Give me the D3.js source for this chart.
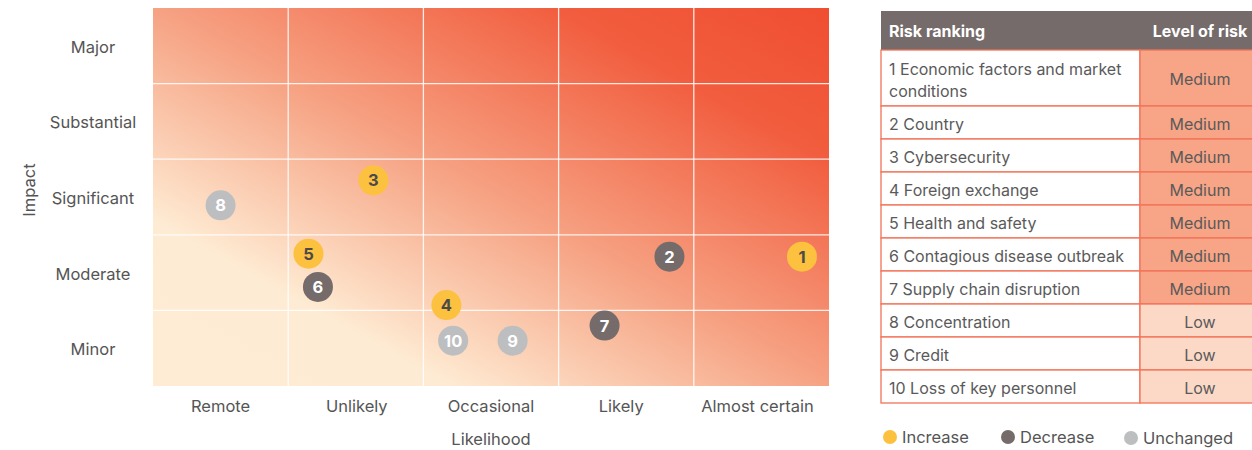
<!DOCTYPE html>
<html>
<head>
<meta charset="utf-8">
<script src="https://cdn.jsdelivr.net/npm/d3@7"></script>
<style>
  body { margin: 0; background: #fff; }
  svg text { font-family: Inter, "Noto Sans", sans-serif; }
</style>
</head>
<body>
<svg id="canvas" width="1252" height="450"></svg>
<script>
// categories
const likelihood = ['Remote', 'Unlikely', 'Occasional', 'Likely', 'Almost certain']
const impact = ['Minor', 'Moderate', 'Significant', 'Substantial', 'Major']

// risks: id, likelihood position, impact position, change
const riskIds = [1, 2, 3, 4, 5, 6, 7, 8, 9, 10]
const riskX = [4.80, 3.82, 1.63, 2.17, 1.15, 1.22, 3.34, 0.50, 2.66, 2.22]
const riskY = [1.71, 1.71, 2.72, 1.07, 1.75, 1.31, 0.80, 2.39, 0.60, 0.60]
const riskChange = ['Increase', 'Decrease', 'Increase', 'Increase', 'Increase', 'Decrease', 'Decrease', 'Unchanged', 'Unchanged', 'Unchanged']

// table
const riskNames = ['Economic factors and market conditions', 'Country', 'Cybersecurity', 'Foreign exchange',
  'Health and safety', 'Contagious disease outbreak', 'Supply chain disruption', 'Concentration', 'Credit',
  'Loss of key personnel']
const riskLevel = ['Medium', 'Medium', 'Medium', 'Medium', 'Medium', 'Medium', 'Medium', 'Low', 'Low', 'Low']

const changes = ['Increase', 'Decrease', 'Unchanged']
const changeColor = d3.scaleOrdinal().domain(changes).range(['#fcc13f', '#756b6a', '#bdbec0'])
const changeText = d3.scaleOrdinal().domain(changes).range(['#4a4a4a', '#ffffff', '#ffffff'])
const levelColor = d3.scaleOrdinal().domain(['Medium', 'Low']).range(['#f7a586', '#fcd9c6'])

const svg = d3.select('#canvas')

const plot = {left: 153, right: 829, top: 8, bottom: 386}
let x = d3.scaleLinear().domain([0, 5]).range([plot.left, plot.right])
let y = d3.scaleLinear().domain([0, 5]).range([plot.bottom, plot.top])
let xBand = d3.scaleBand().domain(likelihood).range([plot.left, plot.right])
let yBand = d3.scaleBand().domain(impact).range([plot.bottom, plot.top])

// background gradient
let grad = svg.append('defs').append('linearGradient')
  .attr('id', 'heat').attr('x1', 0).attr('y1', 1).attr('x2', 1).attr('y2', 0)
grad.selectAll('stop')
  .data([[0, '#feecd5'], [0.22, '#feebd3'], [0.5, '#f6a283'], [0.8, '#f15d3e'], [1, '#f04e31']])
  .enter().append('stop')
  .attr('offset', d => d[0]).attr('stop-color', d => d[1])

svg.append('rect')
  .attr('x', plot.left).attr('y', plot.top)
  .attr('width', plot.right - plot.left).attr('height', plot.bottom - plot.top)
  .attr('fill', 'url(#heat)')

// grid
svg.selectAll('.vline')
  .data(d3.range(1, 5))
  .enter().append('line')
  .attr('x1', d => x(d)).attr('x2', d => x(d))
  .attr('y1', plot.top).attr('y2', plot.bottom)
  .attr('stroke', 'rgba(255,255,255,0.85)').attr('stroke-width', 1.3)

svg.selectAll('.hline')
  .data(d3.range(1, 5))
  .enter().append('line')
  .attr('y1', d => y(d)).attr('y2', d => y(d))
  .attr('x1', plot.left).attr('x2', plot.right)
  .attr('stroke', 'rgba(255,255,255,0.85)').attr('stroke-width', 1.3)

// axis labels
const xNudge = [0, 1, 0, -5, -4]
svg.selectAll('.xlab')
  .data(likelihood)
  .enter().append('text')
  .attr('x', (d, i) => xBand(d) + xBand.bandwidth() / 2 + xNudge[i])
  .attr('y', 412)
  .attr('text-anchor', 'middle')
  .attr('font-size', 16.5).attr('fill', '#555')
  .text(d => d)

svg.selectAll('.ylab')
  .data(impact)
  .enter().append('text')
  .attr('x', 93)
  .attr('y', d => yBand(d) + yBand.bandwidth() / 2 + 7)
  .attr('text-anchor', 'middle')
  .attr('font-size', 16.5).attr('fill', '#555')
  .text(d => d)

svg.append('text')
  .attr('x', (plot.left + plot.right) / 2).attr('y', 445)
  .attr('text-anchor', 'middle').attr('font-size', 16.5).attr('fill', '#555')
  .text('Likelihood')

svg.append('text')
  .attr('transform', 'translate(35,190) rotate(-90)')
  .attr('text-anchor', 'middle').attr('font-size', 16.5).attr('fill', '#555')
  .text('Impact')

// risk bubbles
let bubbles = svg.selectAll('.bubble')
  .data(riskIds.map((id, i) => ({id, x: riskX[i], y: riskY[i], change: riskChange[i]})))
  .enter().append('g')
  .attr('transform', d => `translate(${x(d.x)},${y(d.y)})`)

bubbles.append('circle')
  .attr('r', 15)
  .attr('fill', d => changeColor(d.change))

bubbles.append('text')
  .attr('text-anchor', 'middle').attr('dy', 6)
  .attr('font-size', 16.5).attr('font-weight', 700)
  .attr('fill', d => changeText(d.change))
  .text(d => d.id)

// table
const tbl = {left: 881, split: 1140, right: 1262, top: 11, head: 39}
let rowH = riskNames.map((d, i) => i === 0 ? 56 : 33)
let rowTop = []
rowH.reduce((acc, h, i) => { rowTop[i] = acc; return acc + h }, tbl.top + tbl.head)

svg.append('rect')
  .attr('x', tbl.left).attr('y', tbl.top)
  .attr('width', tbl.right - tbl.left).attr('height', tbl.head)
  .attr('fill', '#756b6a')

svg.append('text')
  .attr('x', tbl.left + 8).attr('y', tbl.top + 26)
  .attr('font-size', 16).attr('font-weight', 700).attr('fill', '#fff')
  .text('Risk ranking')

svg.append('text')
  .attr('x', 1200).attr('y', tbl.top + 26)
  .attr('text-anchor', 'middle')
  .attr('font-size', 16).attr('font-weight', 700).attr('fill', '#fff')
  .text('Level of risk')

let rows = svg.selectAll('.row')
  .data(riskNames.map((name, i) => ({name: (i + 1) + ' ' + name, level: riskLevel[i], top: rowTop[i], h: rowH[i]})))
  .enter().append('g')

rows.append('rect')
  .attr('x', tbl.left).attr('y', d => d.top)
  .attr('width', tbl.split - tbl.left).attr('height', d => d.h)
  .attr('fill', '#fff').attr('stroke', '#f37257').attr('stroke-width', 1.3)

rows.append('rect')
  .attr('x', tbl.split).attr('y', d => d.top)
  .attr('width', tbl.right - tbl.split).attr('height', d => d.h)
  .attr('fill', d => levelColor(d.level)).attr('stroke', '#f37257').attr('stroke-width', 1.3)

rows.append('text')
  .attr('x', 1200).attr('y', d => d.top + d.h / 2 + 7)
  .attr('text-anchor', 'middle').attr('font-size', 16).attr('fill', '#5a5a5a')
  .text(d => d.level)

// name column, wrapped to the cell width
rows.append('text')
  .attr('font-size', 16).attr('fill', '#5a5a5a')
  .each(function(d) {
    let t = d3.select(this)
    let words = d.name.split(' ')
    let lines = [], line = []
    let probe = t.append('tspan')
    words.forEach(w => {
      line.push(w)
      probe.text(line.join(' '))
      if (probe.node().getComputedTextLength() > 240 && line.length > 1) {
        line.pop()
        lines.push(line.join(' '))
        line = [w]
      }
    })
    lines.push(line.join(' '))
    probe.remove()
    let y0 = d.top + d.h / 2 + 7 - (lines.length - 1) * 10
    lines.forEach((l, k) => {
      t.append('tspan').attr('x', tbl.left + 8).attr('y', y0 + k * 22).text(l)
    })
  })

// legend
const legendX = [890, 1008, 1131]
let legend = svg.selectAll('.legend')
  .data(changes)
  .enter().append('g')
  .attr('transform', (d, i) => `translate(${legendX[i]},${i === 2 ? 438 : 437})`)

legend.append('circle').attr('r', 7).attr('fill', d => changeColor(d))
legend.append('text')
  .attr('x', 12).attr('y', 6)
  .attr('font-size', 16.5).attr('fill', '#555')
  .text(d => d)
</script>
</body>
</html>
